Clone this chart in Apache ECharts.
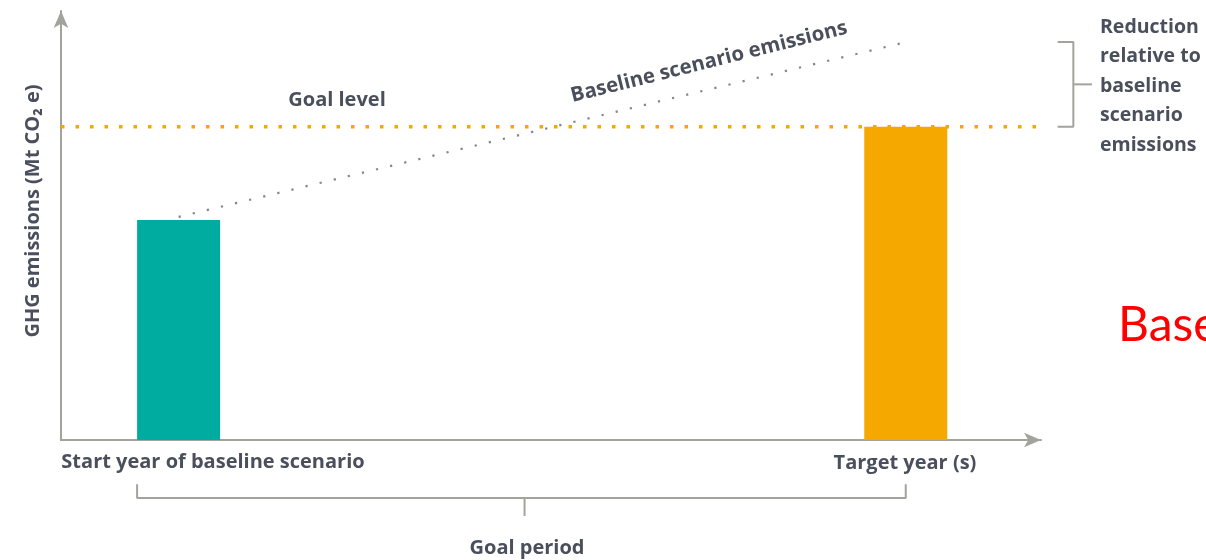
<!DOCTYPE html>
<html><head><meta charset="utf-8">
<script src="https://cdn.jsdelivr.net/npm/echarts@6/dist/echarts.min.js"></script>
<style>html,body{margin:0;padding:0;background:#fff}#c{width:1206px;height:560px}</style>
</head><body><div id="c"></div>
<script>
// ---- data (relative units: time 0..100, emissions 0..100) ----
const categories = ['Start year of baseline scenario', 'Target year (s)'];
const barYears = [12, 86.2];
const barValues = [51.3, 73];
const goalLevel = 73;
const baselineYears = [12, 86.3];
const baselineValues = [52, 92.8];
const yAxisTitle = 'GHG emissions (Mt CO\u2082 e)';
const reductionLines = ['Reduction', 'relative to', 'baseline', 'scenario', 'emissions'];

const TEAL = '#00ab9f', ORANGE = '#f5a800', GREY = '#a3a39e', TXT = '#4a4f5c';
const barColors = [TEAL, ORANGE];
const FONT = '"Open Sans", sans-serif';

const chart = echarts.init(document.getElementById('c'), null, {renderer: 'canvas'});

// overlay grid (same scale as main grid, but extends to the page edges) for annotations
const X_UNIT = 9.8, Y_UNIT = 4.29;
const x2Max = (1206 - 61) / X_UNIT;
const y2Min = -120 / Y_UNIT;

function bracket(pts) {
  return {type: 'line', data: pts, symbol: 'none', silent: true, xAxisIndex: 1, yAxisIndex: 1,
    lineStyle: {color: GREY, width: 2, type: 'solid'}, z: 1};
}
const halfBar = 83 / 2 / X_UNIT;
const bLeft = barYears[0] - halfBar, bRight = barYears[1];
const bMid = 47.3;
const midRed = (baselineValues[1] + goalLevel) / 2;

const textBase = {fill: TXT, fontFamily: FONT, fontWeight: 'bold'};
function txt(text, x, y, size, extra) {
  return {type: 'text', x: x, y: y, silent: true, z: 10,
    style: Object.assign({}, textBase, {text: text, fontSize: size, textAlign: 'center', textVerticalAlign: 'middle'}, extra || {})};
}

const graphics = [
  txt(categories[0], 213, 462, 20),
  txt(categories[1], 905, 463, 20),
  txt('Goal level', 337, 100, 20),
  txt('Goal period', 527, 548, 20),
  Object.assign(txt('Baseline scenario emissions', 709, 62, 20.4), {rotation: 0.245}),
  Object.assign(txt(yAxisTitle, 33, 211, 20), {rotation: Math.PI / 2}),
  {type: 'text', x: 1118, y: 326, silent: true,
   style: {text: 'Baseline', fill: '#ff0000', fontFamily: 'Lato, sans-serif', fontSize: 48, textAlign: 'left', textVerticalAlign: 'middle'}}
];
reductionLines.forEach((t, i) => {
  graphics.push(txt(t, 1100, 27 + i * 29.5, 19.5, {textAlign: 'left'}));
});

const option = {
  animation: false,
  backgroundColor: '#fff',
  grid: [
    {left: 61, right: 165, top: 11, bottom: 120},
    {left: 61, right: 0, top: 11, bottom: 0}
  ],
  xAxis: [
    {type: 'value', min: 0, max: 100, gridIndex: 0,
     axisLine: {show: true, onZero: false, lineStyle: {color: GREY, width: 2}, symbol: ['none', 'arrow'], symbolSize: [11, 17]},
     axisTick: {show: false}, axisLabel: {show: false}, splitLine: {show: false}},
    {type: 'value', min: 0, max: x2Max, gridIndex: 1, show: false, splitLine: {show: false}}
  ],
  yAxis: [
    {type: 'value', min: 0, max: 100, gridIndex: 0,
     axisLine: {show: true, onZero: false, lineStyle: {color: GREY, width: 2}, symbol: ['none', 'arrow'], symbolSize: [11, 17]},
     axisTick: {show: false}, axisLabel: {show: false}, splitLine: {show: false}},
    {type: 'value', min: y2Min, max: 100, gridIndex: 1, show: false, splitLine: {show: false}}
  ],
  series: [
    {type: 'bar', barWidth: 83, z: 2,
     data: barYears.map((x, i) => ({value: [x, barValues[i]], itemStyle: {color: barColors[i]}}))},
    {type: 'line', symbol: 'none', z: 3, xAxisIndex: 1, yAxisIndex: 1,
     data: [[0, goalLevel], [100.5, goalLevel]],
     lineStyle: {color: ORANGE, width: 3.5, type: [3.5, 11]}},
    {type: 'line', symbol: 'none', z: 3,
     data: baselineYears.map((x, i) => [x, baselineValues[i]]),
     lineStyle: {color: '#858585', width: 2.2, type: [2.2, 12.3]}},
    bracket([[bLeft, -10.3], [bLeft, -13.5], [bRight, -13.5], [bRight, -10.3]]),
    bracket([[bMid, -13.5], [bMid, -17.7]]),
    bracket([[101.7, baselineValues[1]], [103.3, baselineValues[1]], [103.3, goalLevel], [101.7, goalLevel]]),
    bracket([[103.3, midRed], [105.2, midRed]])
  ],
  graphic: graphics
};
chart.setOption(option);
</script></body></html>
